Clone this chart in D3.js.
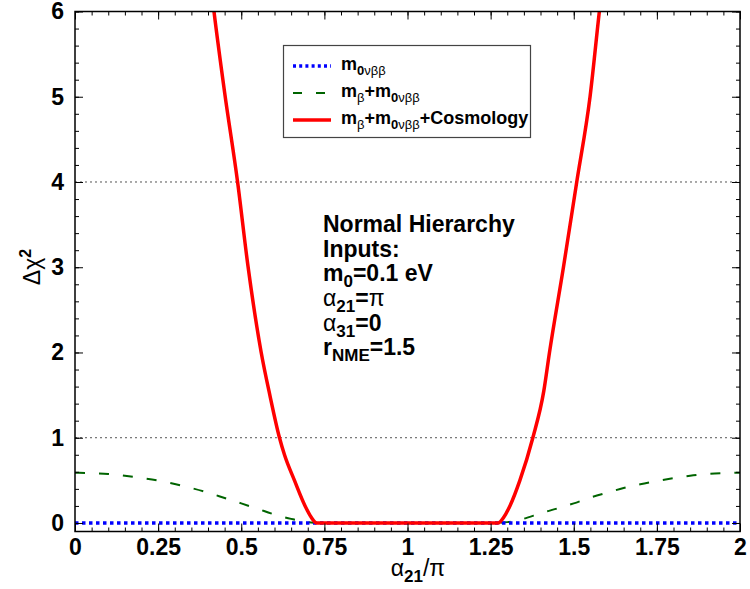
<!DOCTYPE html>
<html>
<head>
<meta charset="utf-8">
<script src="https://cdn.jsdelivr.net/npm/d3@7"></script>
<style>
  body { margin: 0; background: #fff; }
  svg { display: block; font-family: "Liberation Sans", Arial, Helvetica, sans-serif; }
</style>
</head>
<body>
<svg id="chart" width="750" height="589"></svg>
<script>
// ---------------- data ----------------
const xTicks = [0, 0.25, 0.5, 0.75, 1, 1.25, 1.5, 1.75, 2];
const xTickLabels = ["0", "0.25", "0.5", "0.75", "1", "1.25", "1.5", "1.75", "2"];
const yTicks = [0, 1, 2, 3, 4, 5, 6];
const yTickLabels = ["0", "1", "2", "3", "4", "5", "6"];
const refLevels = [1, 4];

// m_0νββ only (flat at zero)
const alphaBlue = [0, 2];
const chi2Blue = [0, 0];

// m_β + m_0νββ
const alphaGreen = [0, 0.05, 0.1, 0.15, 0.2, 0.25, 0.3, 0.35, 0.4, 0.45, 0.5, 0.55, 0.6, 0.65, 0.7, 0.75,
                    1.25, 1.3, 1.35, 1.4, 1.45, 1.5, 1.55, 1.6, 1.65, 1.7, 1.75, 1.8, 1.85, 1.9, 1.95, 2.0];
const chi2Green = [0.59, 0.585, 0.575, 0.553, 0.527, 0.497, 0.458, 0.41, 0.356, 0.293, 0.23, 0.165, 0.10, 0.048, 0.01, 0.0,
                   0.0, 0.01, 0.05, 0.114, 0.17, 0.23, 0.298, 0.355, 0.41, 0.455, 0.492, 0.525, 0.555, 0.575, 0.585, 0.59];

// m_β + m_0νββ + Cosmology
const alphaRed = [0.40, 0.418, 0.45, 0.489, 0.52, 0.56, 0.586, 0.615, 0.63, 0.66, 0.692, 0.71, 0.727,
                  1.0, 1.272, 1.29, 1.308, 1.338, 1.377, 1.41, 1.427, 1.469, 1.509, 1.549, 1.577, 1.595];
const chi2Red = [6.6, 6.0, 5.05, 4.0, 3.02, 2.0, 1.5, 1.0, 0.8, 0.5, 0.2, 0.07, 0.0,
                 0.0, 0.0, 0.07, 0.2, 0.5, 1.0, 1.55, 2.0, 3.0, 4.0, 5.0, 6.0, 6.6];

const legendLabels = [
  [{t: "m"}, {t: "0", sub: true}, {t: "νββ", sub: true, normal: true}],
  [{t: "m"}, {t: "β", sub: true, normal: true}, {t: "+m"}, {t: "0", sub: true}, {t: "νββ", sub: true, normal: true}],
  [{t: "m"}, {t: "β", sub: true, normal: true}, {t: "+m"}, {t: "0", sub: true}, {t: "νββ", sub: true, normal: true}, {t: "+Cosmology"}]
];
const annotationLines = [
  [{t: "Normal Hierarchy"}],
  [{t: "Inputs:"}],
  [{t: "m"}, {t: "0", sub: true}, {t: "=0.1 eV"}],
  [{t: "α", normal: true}, {t: "21", sub: true}, {t: "="}, {t: "π", normal: true}],
  [{t: "α", normal: true}, {t: "31", sub: true}, {t: "=0"}],
  [{t: "r"}, {t: "NME", sub: true}, {t: "=1.5"}]
];

// ---------------- layout ----------------
const svg = d3.select("#chart");
const L = 75, R = 740, T = 11.5, B = 531.5;
const x = d3.scaleLinear().domain([0, 2]).range([L, R]);
const y = d3.scaleLinear().domain([-0.1, 6]).range([B, T]);

svg.append("defs").append("clipPath").attr("id", "clip")
  .append("rect").attr("x", L).attr("y", T).attr("width", R - L).attr("height", B - T);

// reference lines
svg.append("g").selectAll("line").data(refLevels).join("line")
  .attr("x1", L).attr("x2", R)
  .attr("y1", d => y(d)).attr("y2", d => y(d))
  .attr("stroke", "#555").attr("stroke-width", 1).attr("stroke-dasharray", "2,3");

const line = d3.line().x(d => x(d[0])).y(d => y(d[1])).curve(d3.curveMonotoneX);
const plot = svg.append("g").attr("clip-path", "url(#clip)");

plot.append("path").datum(d3.zip(alphaGreen, chi2Green)).attr("d", line)
  .attr("fill", "none").attr("stroke", "#006400").attr("stroke-width", 2).attr("stroke-dasharray", "10,14");
plot.append("path").datum(d3.zip(alphaBlue, chi2Blue)).attr("d", line)
  .attr("fill", "none").attr("stroke", "#0000ff").attr("stroke-width", 3.5).attr("stroke-dasharray", "3.5,3.5");
plot.append("path").datum(d3.zip(alphaRed, chi2Red)).attr("d", line)
  .attr("fill", "none").attr("stroke", "#ff0000").attr("stroke-width", 3.5).attr("stroke-linejoin", "round");

// ---------------- axes ----------------
const xMinor = d3.range(0, 2.0001, 0.05);
const yMinor = d3.range(0, 6.0001, 0.2);
function styleAxis(g) {
  g.select(".domain").remove();
  g.selectAll(".tick line").attr("stroke", "#000").attr("stroke-width", 1);
}
// bottom
svg.append("g").attr("transform", `translate(0,${B})`)
  .call(d3.axisBottom(x).tickValues(xMinor).tickSize(-4).tickFormat("")).call(styleAxis);
svg.append("g").attr("transform", `translate(0,${B})`)
  .call(d3.axisBottom(x).tickValues(xTicks).tickSize(-8).tickPadding(7)
        .tickFormat((d, i) => xTickLabels[i])).call(styleAxis)
  .selectAll("text").attr("fill", "#000").attr("font-size", 23).attr("font-weight", "bold")
  .attr("font-family", "Liberation Sans, Arial, sans-serif");
// top
svg.append("g").attr("transform", `translate(0,${T})`)
  .call(d3.axisTop(x).tickValues(xMinor).tickSize(-4).tickFormat("")).call(styleAxis);
svg.append("g").attr("transform", `translate(0,${T})`)
  .call(d3.axisTop(x).tickValues(xTicks).tickSize(-8).tickFormat("")).call(styleAxis);
// left
svg.append("g").attr("transform", `translate(${L},0)`)
  .call(d3.axisLeft(y).tickValues(yMinor).tickSize(-4).tickFormat("")).call(styleAxis);
svg.append("g").attr("transform", `translate(${L},0)`)
  .call(d3.axisLeft(y).tickValues(yTicks).tickSize(-8).tickPadding(11)
        .tickFormat((d, i) => yTickLabels[i])).call(styleAxis)
  .selectAll("text").attr("fill", "#000").attr("font-size", 23).attr("font-weight", "bold")
  .attr("font-family", "Liberation Sans, Arial, sans-serif");
// right
svg.append("g").attr("transform", `translate(${R},0)`)
  .call(d3.axisRight(y).tickValues(yMinor).tickSize(-4).tickFormat("")).call(styleAxis);
svg.append("g").attr("transform", `translate(${R},0)`)
  .call(d3.axisRight(y).tickValues(yTicks).tickSize(-8).tickFormat("")).call(styleAxis);

// frame
svg.append("rect").attr("x", L).attr("y", T).attr("width", R - L).attr("height", B - T)
  .attr("fill", "none").attr("stroke", "#000").attr("stroke-width", 1.5);

// ---------------- rich text helper ----------------
function richText(sel, segs, size, subSize, subShift) {
  let inSub = false;
  segs.forEach(s => {
    const ts = sel.append("tspan").text(s.t)
      .attr("font-size", s.sub ? subSize : size)
      .attr("font-weight", s.normal ? "normal" : "bold");
    if (s.sub && !inSub) { ts.attr("dy", subShift); inSub = true; }
    else if (!s.sub && inSub) { ts.attr("dy", -subShift); inSub = false; }
  });
}

// ---------------- legend ----------------
const lg = svg.append("g");
lg.append("rect").attr("x", 283.5).attr("y", 45.5).attr("width", 247).attr("height", 92)
  .attr("fill", "#fff").attr("stroke", "#444").attr("stroke-width", 1.2);
const legY = [66, 93, 120];
const legStyles = [
  {c: "#0000ff", w: 3.5, dash: "3,3.2"},
  {c: "#006400", w: 2, dash: "9,14"},
  {c: "#ff0000", w: 3.5, dash: null}
];
legStyles.forEach((s, i) => {
  const l = lg.append("line").attr("x1", 293).attr("x2", 331).attr("y1", legY[i]).attr("y2", legY[i])
    .attr("stroke", s.c).attr("stroke-width", s.w);
  if (s.dash) l.attr("stroke-dasharray", s.dash);
  const t = lg.append("text").attr("x", 341).attr("y", legY[i] + 4).attr("fill", "#000");
  richText(t, legendLabels[i], 18, 13, 5);
});

// ---------------- annotation ----------------
const annY = [232, 257, 281, 306, 331, 355];
annotationLines.forEach((segs, i) => {
  const t = svg.append("text").attr("x", 323).attr("y", annY[i]).attr("fill", "#000");
  richText(t, segs, 23, 17, 6);
});

// ---------------- axis titles ----------------
const xt = svg.append("text").attr("x", 418).attr("y", 576).attr("text-anchor", "middle").attr("fill", "#000");
richText(xt, [{t: "α", normal: true}, {t: "21", sub: true}, {t: "/π", normal: true}], 23, 17, 6);

const yt = svg.append("text").attr("transform", "translate(40,267) rotate(-90)")
  .attr("text-anchor", "middle").attr("fill", "#000");
yt.append("tspan").text("Δχ").attr("font-size", 23);
yt.append("tspan").text("2").attr("font-size", 16).attr("font-weight", "bold").attr("dy", -9);
</script>
</body>
</html>
